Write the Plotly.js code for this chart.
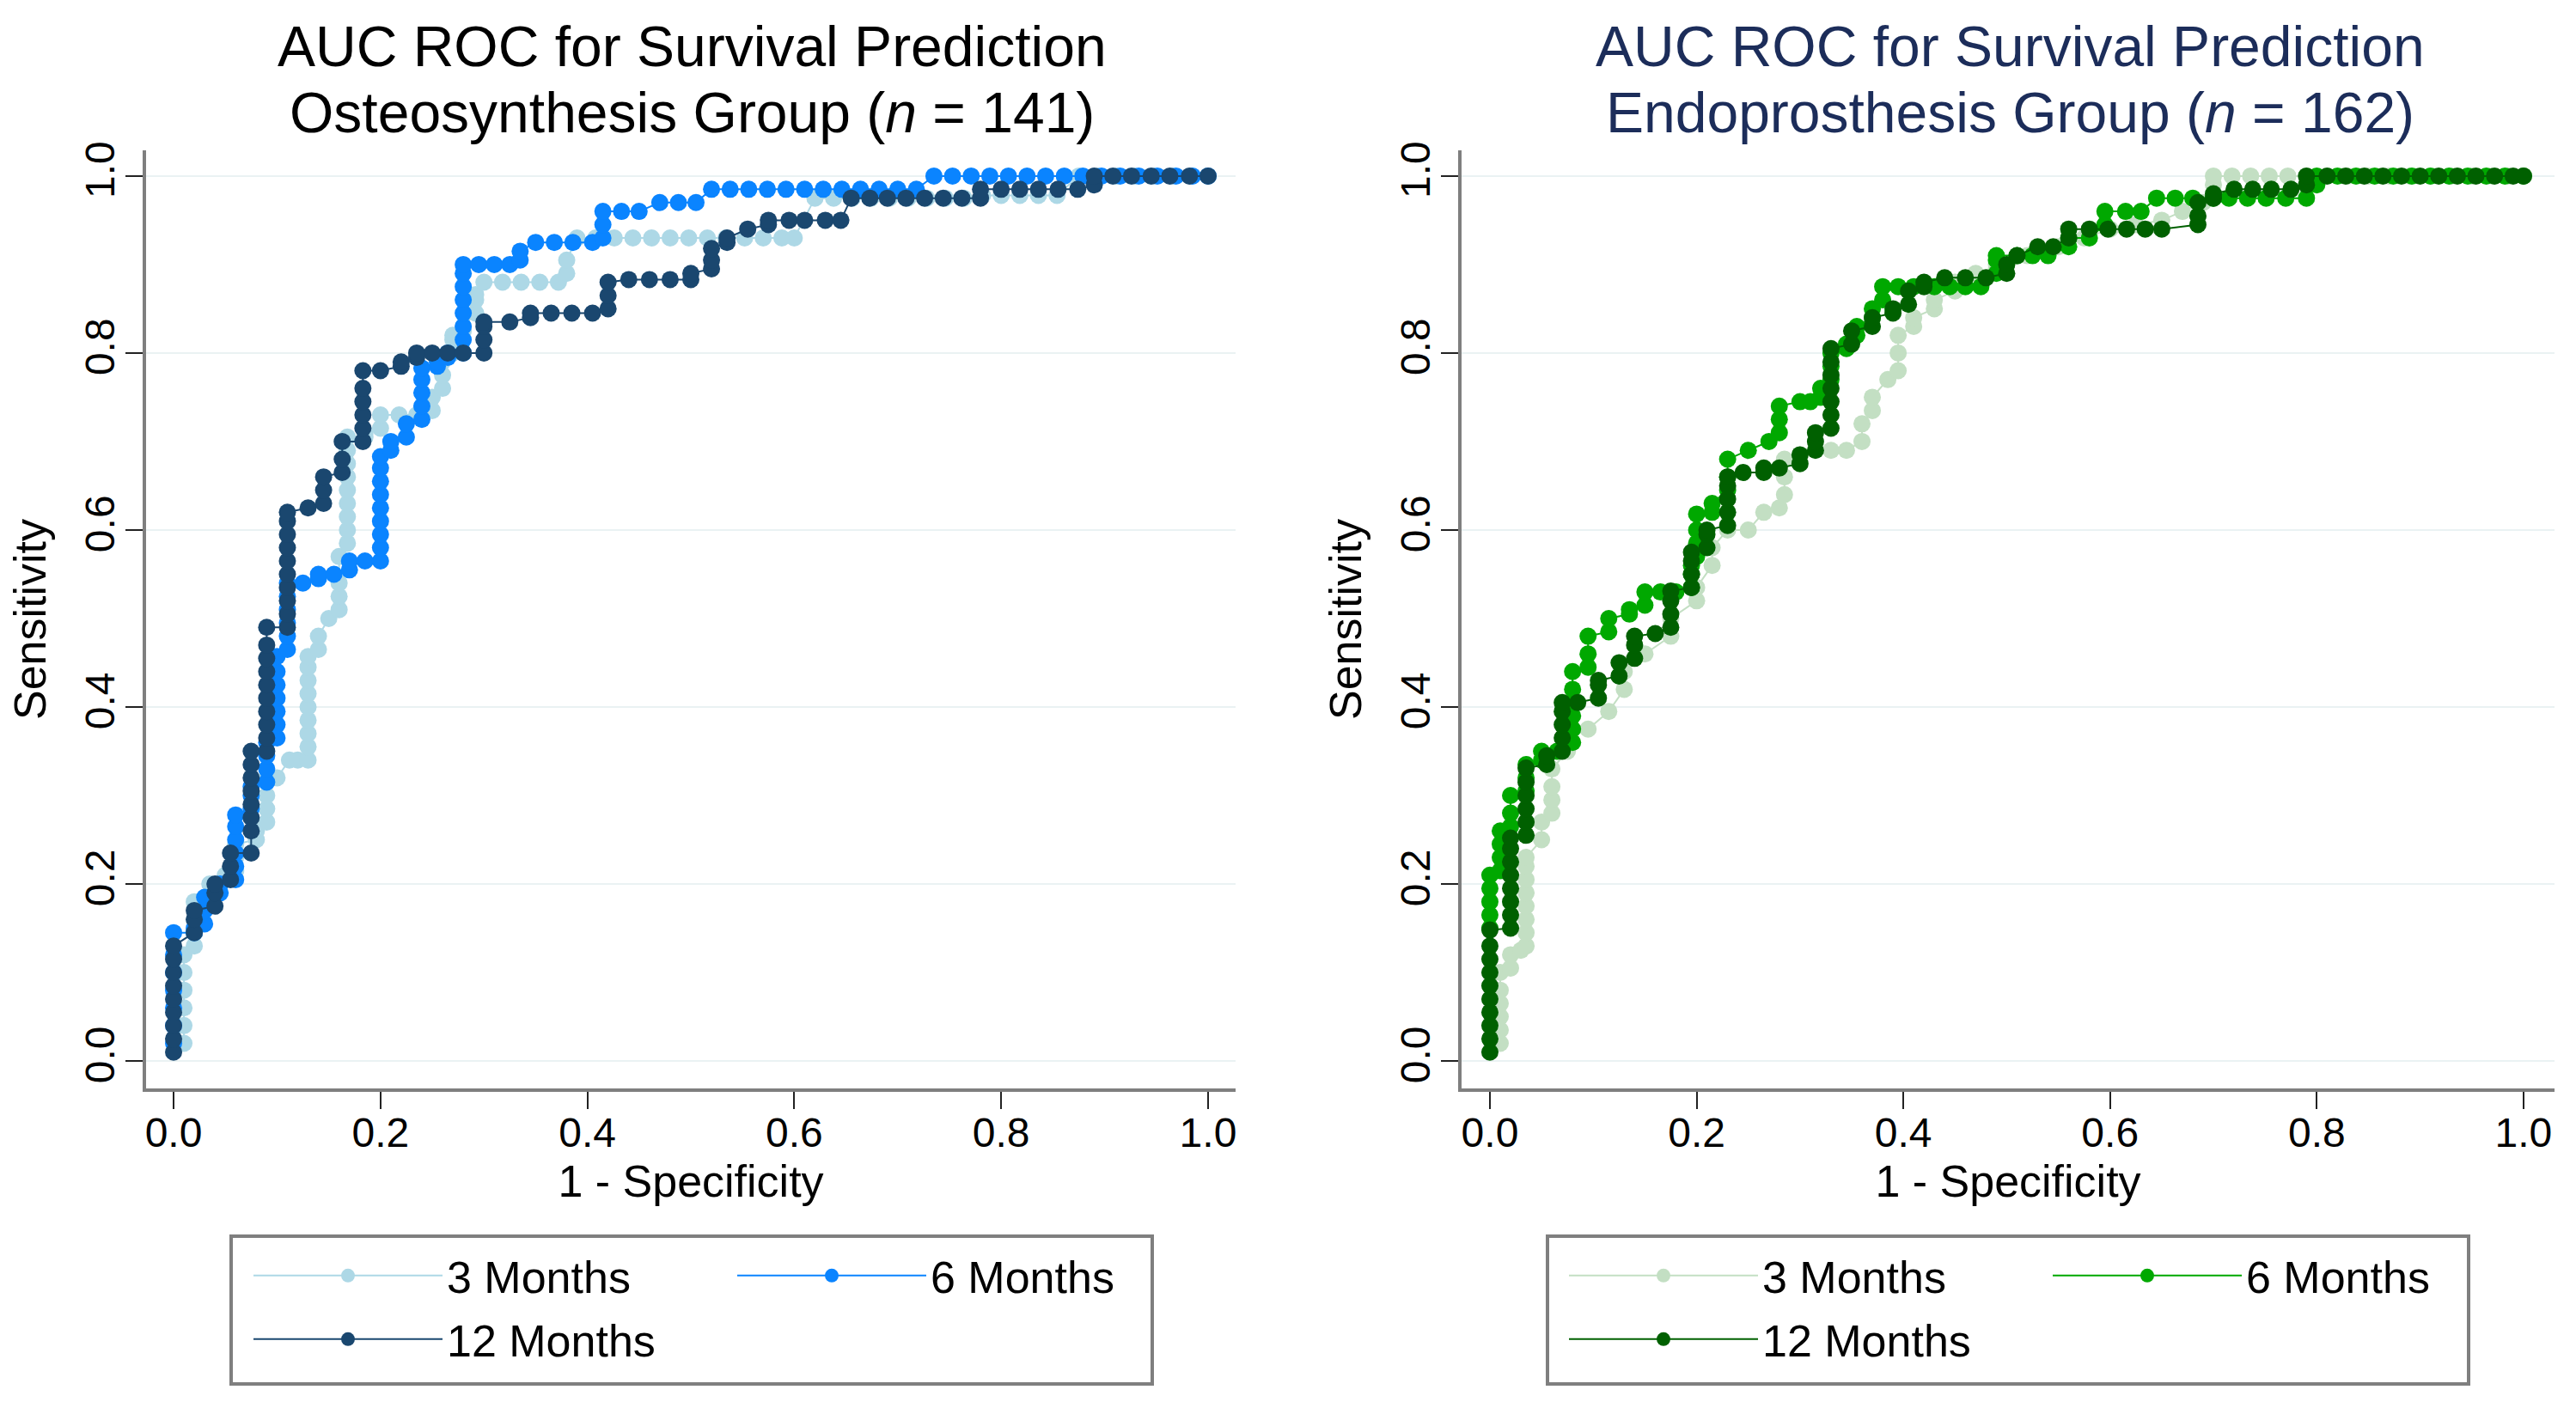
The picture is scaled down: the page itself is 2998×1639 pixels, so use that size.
<!DOCTYPE html>
<html>
<head>
<meta charset="utf-8">
<script src="https://cdn.plot.ly/plotly-3.0.1.min.js"></script>
<style>
  html, body { margin: 0; padding: 0; background: #ffffff; }
  #chart { width: 2998px; height: 1639px; }
</style>
</head>
<body>
<div id="chart"></div>
<script>
// ---------- data (1 - specificity, sensitivity) ----------
const seriesNames = ["3 Months", "6 Months", "12 Months"];
const tickVals = [0, 0.2, 0.4, 0.6, 0.8, 1.0];
const tickText = ["0.0", "0.2", "0.4", "0.6", "0.8", "1.0"];

const osteo3m = [
 [0.01,0.02],[0.01,0.04],[0.01,0.06],[0.01,0.08],[0.01,0.10],[0.01,0.12],
 [0.02,0.13],[0.02,0.145],[0.02,0.16],[0.02,0.18],
 [0.035,0.185],[0.035,0.20],[0.05,0.205],[0.05,0.21],
 [0.06,0.215],[0.06,0.23],[0.06,0.245],[0.08,0.25],[0.08,0.26],
 [0.09,0.27],[0.09,0.285],[0.09,0.30],[0.09,0.32],[0.10,0.32],
 [0.112,0.34],[0.12,0.34],
 [0.13,0.34],[0.13,0.355],[0.13,0.37],[0.13,0.385],[0.13,0.40],[0.13,0.415],[0.13,0.43],[0.13,0.445],[0.13,0.457],
 [0.14,0.465],[0.14,0.48],[0.15,0.50],
 [0.16,0.51],[0.16,0.525],[0.16,0.54],[0.16,0.57],
 [0.168,0.585],[0.168,0.60],[0.168,0.615],[0.168,0.63],[0.168,0.645],[0.168,0.66],[0.168,0.675],[0.168,0.69],[0.168,0.705],
 [0.185,0.705],[0.185,0.71],[0.20,0.715],[0.20,0.73],[0.218,0.73],[0.235,0.73],
 [0.25,0.735],[0.25,0.75],[0.26,0.76],[0.26,0.775],[0.26,0.79],
 [0.27,0.80],[0.27,0.815],[0.27,0.82],[0.28,0.825],[0.28,0.83],
 [0.292,0.845],[0.292,0.86],[0.292,0.866],
 [0.30,0.88],[0.318,0.88],[0.336,0.88],[0.354,0.88],[0.372,0.88],
 [0.38,0.89],[0.38,0.905],
 [0.39,0.93],[0.408,0.93],[0.426,0.93],[0.444,0.93],[0.462,0.93],[0.48,0.93],[0.498,0.93],[0.516,0.93],[0.534,0.93],[0.552,0.93],[0.57,0.93],[0.588,0.93],[0.60,0.93],
 [0.62,0.975],[0.638,0.975],[0.656,0.975],[0.674,0.975],[0.692,0.975],[0.71,0.975],[0.728,0.975],[0.746,0.975],[0.764,0.975],
 [0.782,0.978],[0.80,0.978],[0.818,0.978],[0.836,0.978],[0.854,0.978],
 [0.875,1.0],[0.893,1.0],[0.911,1.0],[0.929,1.0],[0.947,1.0],[0.965,1.0],[0.983,1.0],[1.0,1.0]
];

const osteo6m = [
 [0,0.02],[0,0.04],[0,0.06],[0,0.08],[0,0.10],[0,0.12],[0,0.145],
 [0.02,0.145],[0.02,0.15],[0.03,0.155],[0.03,0.17],[0.03,0.185],
 [0.045,0.19],[0.045,0.20],
 [0.06,0.205],[0.06,0.22],[0.06,0.235],[0.06,0.25],[0.06,0.265],[0.06,0.278],
 [0.075,0.285],[0.075,0.30],[0.075,0.31],
 [0.09,0.315],[0.09,0.33],[0.09,0.345],[0.09,0.36],
 [0.10,0.365],[0.10,0.38],[0.10,0.395],[0.10,0.41],[0.10,0.425],[0.10,0.44],[0.10,0.457],
 [0.11,0.465],[0.11,0.48],[0.11,0.495],[0.11,0.51],[0.11,0.525],[0.11,0.54],
 [0.125,0.54],[0.14,0.545],[0.14,0.55],[0.155,0.55],[0.17,0.555],[0.17,0.565],[0.185,0.565],
 [0.20,0.565],[0.20,0.58],[0.20,0.595],[0.20,0.61],[0.20,0.625],[0.20,0.64],[0.20,0.655],[0.20,0.67],[0.20,0.683],
 [0.21,0.69],[0.21,0.70],[0.225,0.705],[0.225,0.72],
 [0.24,0.725],[0.24,0.74],[0.24,0.755],[0.24,0.77],[0.24,0.783],
 [0.255,0.785],[0.255,0.79],[0.265,0.795],[0.265,0.80],
 [0.28,0.80],[0.28,0.815],[0.28,0.83],[0.28,0.845],[0.28,0.86],[0.28,0.875],[0.28,0.89],[0.28,0.90],
 [0.295,0.90],[0.31,0.90],[0.325,0.90],[0.335,0.905],[0.335,0.915],
 [0.35,0.925],[0.368,0.925],[0.386,0.925],[0.405,0.925],
 [0.415,0.93],[0.415,0.945],[0.415,0.96],[0.433,0.96],[0.45,0.96],
 [0.47,0.97],[0.488,0.97],[0.505,0.97],
 [0.52,0.985],[0.538,0.985],[0.556,0.985],[0.574,0.985],[0.592,0.985],[0.61,0.985],[0.628,0.985],[0.646,0.985],[0.664,0.985],[0.682,0.985],[0.70,0.985],[0.718,0.985],
 [0.735,1.0],[0.753,1.0],[0.771,1.0],[0.789,1.0],[0.807,1.0],[0.825,1.0],[0.843,1.0],[0.861,1.0],[0.879,1.0],[0.897,1.0],[0.915,1.0],[0.933,1.0],[0.951,1.0],[0.969,1.0],[0.985,1.0],[1.0,1.0]
];

const osteo12m = [
 [0,0.01],[0,0.025],[0,0.04],[0,0.055],[0,0.07],[0,0.085],[0,0.10],[0,0.115],[0,0.13],
 [0.02,0.145],[0.02,0.16],[0.02,0.17],[0.04,0.175],[0.04,0.19],[0.04,0.20],
 [0.055,0.205],[0.055,0.22],[0.055,0.235],
 [0.075,0.235],[0.075,0.26],[0.075,0.275],[0.075,0.29],[0.075,0.305],[0.075,0.32],[0.075,0.335],[0.075,0.35],
 [0.09,0.35],[0.09,0.365],[0.09,0.38],[0.09,0.395],[0.09,0.41],[0.09,0.425],[0.09,0.44],[0.09,0.455],[0.09,0.47],[0.09,0.49],
 [0.11,0.49],[0.11,0.505],[0.11,0.52],[0.11,0.535],[0.11,0.55],[0.11,0.565],[0.11,0.58],[0.11,0.595],[0.11,0.61],[0.11,0.62],
 [0.13,0.625],[0.145,0.63],[0.145,0.645],[0.145,0.66],
 [0.163,0.665],[0.163,0.68],[0.163,0.70],
 [0.183,0.70],[0.183,0.715],[0.183,0.73],[0.183,0.745],[0.183,0.76],[0.183,0.78],
 [0.20,0.78],[0.22,0.785],[0.22,0.79],[0.235,0.795],[0.235,0.80],
 [0.25,0.80],[0.265,0.80],[0.28,0.80],
 [0.30,0.80],[0.30,0.815],[0.30,0.83],[0.30,0.835],[0.325,0.835],
 [0.345,0.84],[0.345,0.845],[0.365,0.845],[0.385,0.845],[0.405,0.845],
 [0.42,0.85],[0.42,0.865],[0.42,0.88],
 [0.44,0.883],[0.46,0.883],[0.48,0.883],[0.50,0.883],[0.50,0.89],
 [0.52,0.895],[0.52,0.905],[0.52,0.918],[0.535,0.925],[0.535,0.93],
 [0.555,0.94],[0.575,0.945],[0.575,0.95],
 [0.595,0.95],[0.61,0.95],[0.63,0.95],[0.645,0.95],
 [0.655,0.975],[0.673,0.975],[0.69,0.975],[0.708,0.975],[0.726,0.975],[0.744,0.975],[0.762,0.975],
 [0.78,0.975],[0.78,0.985],
 [0.80,0.985],[0.818,0.985],[0.836,0.985],[0.855,0.985],[0.874,0.985],
 [0.89,0.99],[0.89,1.0],
 [0.908,1.0],[0.926,1.0],[0.945,1.0],[0.963,1.0],[0.982,1.0],[1.0,1.0]
];

const endo3m = [
 [0.01,0.02],[0.01,0.035],[0.01,0.05],[0.01,0.065],[0.01,0.08],[0.01,0.10],
 [0.02,0.105],[0.02,0.12],[0.03,0.125],
 [0.035,0.13],[0.035,0.145],[0.035,0.16],[0.035,0.175],[0.035,0.19],[0.035,0.205],[0.035,0.22],[0.035,0.23],
 [0.05,0.25],[0.05,0.27],[0.06,0.28],[0.06,0.295],[0.06,0.31],[0.06,0.33],
 [0.075,0.35],[0.075,0.37],[0.095,0.375],[0.115,0.395],
 [0.13,0.42],[0.13,0.44],[0.15,0.46],[0.175,0.48],[0.175,0.50],
 [0.20,0.52],[0.20,0.535],[0.215,0.56],[0.215,0.58],
 [0.23,0.60],[0.25,0.60],[0.265,0.62],[0.28,0.625],
 [0.285,0.64],[0.285,0.66],[0.285,0.68],
 [0.30,0.685],[0.33,0.69],[0.345,0.69],
 [0.36,0.70],[0.36,0.72],[0.37,0.735],[0.37,0.75],[0.385,0.77],
 [0.395,0.78],[0.395,0.80],[0.395,0.82],[0.41,0.83],[0.41,0.84],
 [0.43,0.85],[0.43,0.86],[0.45,0.87],[0.45,0.88],[0.47,0.89],
 [0.49,0.895],[0.49,0.90],[0.52,0.91],[0.55,0.92],[0.575,0.93],[0.60,0.94],[0.625,0.945],[0.65,0.95],[0.67,0.96],[0.69,0.97],
 [0.70,0.99],[0.70,1.0],
 [0.718,1.0],[0.736,1.0],[0.754,1.0],[0.772,1.0],[0.79,1.0],[0.81,1.0],[0.83,1.0],[0.85,1.0],[0.87,1.0],[0.89,1.0],[0.91,1.0],[0.93,1.0],[0.95,1.0],[0.97,1.0],[0.985,1.0],[1.0,1.0]
];

const endo6m = [
 [0,0.15],[0,0.165],[0,0.18],[0,0.195],[0,0.21],
 [0.01,0.215],[0.01,0.23],[0.01,0.245],[0.01,0.26],
 [0.02,0.265],[0.02,0.28],[0.02,0.30],
 [0.035,0.305],[0.035,0.32],[0.035,0.335],[0.05,0.34],[0.05,0.35],[0.065,0.35],
 [0.08,0.36],[0.08,0.375],[0.08,0.39],[0.08,0.405],[0.08,0.42],[0.08,0.44],
 [0.095,0.445],[0.095,0.46],[0.095,0.48],[0.115,0.485],[0.115,0.50],
 [0.135,0.505],[0.135,0.51],[0.15,0.515],[0.15,0.53],[0.165,0.53],[0.18,0.53],
 [0.195,0.535],[0.195,0.55],[0.195,0.56],
 [0.20,0.57],[0.20,0.585],[0.20,0.60],[0.20,0.618],
 [0.215,0.62],[0.215,0.63],[0.23,0.645],[0.23,0.66],[0.23,0.68],
 [0.25,0.69],[0.27,0.70],[0.28,0.71],[0.28,0.725],[0.28,0.74],
 [0.30,0.745],[0.31,0.745],[0.32,0.75],[0.32,0.76],
 [0.33,0.77],[0.33,0.785],[0.33,0.80],[0.345,0.805],[0.345,0.81],
 [0.355,0.82],[0.355,0.83],[0.37,0.84],[0.37,0.85],[0.38,0.86],[0.38,0.875],
 [0.395,0.875],[0.41,0.875],[0.43,0.875],[0.445,0.875],[0.46,0.875],[0.475,0.875],
 [0.49,0.89],[0.49,0.905],[0.49,0.91],[0.51,0.91],[0.525,0.91],[0.54,0.91],
 [0.56,0.92],[0.56,0.93],[0.58,0.93],[0.595,0.945],[0.595,0.96],[0.615,0.96],[0.63,0.96],
 [0.645,0.975],[0.663,0.975],[0.68,0.975],[0.70,0.975],[0.715,0.975],[0.733,0.975],[0.751,0.975],[0.77,0.975],[0.79,0.975],
 [0.80,0.99],[0.80,1.0],
 [0.82,1.0],[0.838,1.0],[0.856,1.0],[0.874,1.0],[0.892,1.0],[0.91,1.0],[0.928,1.0],[0.946,1.0],[0.964,1.0],[0.982,1.0],[1.0,1.0]
];

const endo12m = [
 [0,0.01],[0,0.025],[0,0.04],[0,0.055],[0,0.07],[0,0.085],[0,0.10],[0,0.115],[0,0.13],[0,0.148],
 [0.02,0.15],[0.02,0.165],[0.02,0.18],[0.02,0.195],[0.02,0.21],[0.02,0.225],[0.02,0.24],[0.02,0.252],
 [0.035,0.255],[0.035,0.27],[0.035,0.285],[0.035,0.30],[0.035,0.315],[0.035,0.331],
 [0.055,0.335],[0.055,0.345],
 [0.07,0.35],[0.07,0.365],[0.07,0.38],[0.07,0.395],[0.07,0.405],[0.085,0.405],
 [0.105,0.41],[0.105,0.425],[0.105,0.43],[0.125,0.435],[0.125,0.45],
 [0.14,0.455],[0.14,0.47],[0.14,0.48],[0.16,0.483],
 [0.175,0.49],[0.175,0.505],[0.175,0.52],[0.175,0.531],
 [0.195,0.535],[0.195,0.55],[0.195,0.565],[0.195,0.575],
 [0.21,0.58],[0.21,0.595],[0.21,0.60],
 [0.23,0.605],[0.23,0.62],[0.23,0.635],[0.23,0.65],[0.23,0.66],
 [0.245,0.665],[0.265,0.665],[0.265,0.67],[0.28,0.67],
 [0.30,0.675],[0.30,0.685],[0.315,0.69],[0.315,0.70],[0.315,0.71],
 [0.33,0.715],[0.33,0.73],[0.33,0.745],[0.33,0.76],[0.33,0.775],[0.33,0.79],[0.33,0.805],
 [0.35,0.81],[0.35,0.825],[0.37,0.83],[0.37,0.84],[0.39,0.845],[0.39,0.85],
 [0.405,0.855],[0.405,0.87],[0.42,0.875],[0.42,0.88],
 [0.44,0.885],[0.46,0.885],[0.48,0.885],[0.50,0.89],[0.50,0.90],
 [0.51,0.91],[0.53,0.92],[0.545,0.92],[0.56,0.93],[0.56,0.94],
 [0.58,0.94],[0.598,0.94],[0.616,0.94],[0.634,0.94],[0.65,0.94],
 [0.685,0.945],[0.685,0.955],[0.685,0.97],[0.70,0.975],[0.70,0.98],
 [0.72,0.985],[0.738,0.985],[0.756,0.985],[0.775,0.985],
 [0.79,0.99],[0.79,1.0],
 [0.81,1.0],[0.828,1.0],[0.846,1.0],[0.864,1.0],[0.882,1.0],[0.90,1.0],[0.918,1.0],[0.936,1.0],[0.954,1.0],[0.972,1.0],[0.99,1.0],[1.0,1.0]
];

const osteoColors = ["#add8e6", "#0a84ff", "#1a476f"];
const endoColors  = ["#c3dfc3", "#00a800", "#006000"];

// ---------- traces ----------
const FONT = "'Liberation Sans', Arial, Helvetica, sans-serif";
function mk(pts, name, color, xa, ya, legendId) {
  return {
    type: "scatter", mode: "lines+markers",
    x: pts.map(p => p[0]), y: pts.map(p => p[1]),
    name: name, xaxis: xa, yaxis: ya, legend: legendId,
    line: { color: color, width: 2 },
    marker: { color: color, size: 20, symbol: "circle", line: { width: 0 } },
    hoverinfo: "x+y+name", cliponaxis: false
  };
}
const data = [
  mk(osteo3m,  seriesNames[0], osteoColors[0], "x", "y", "legend"),
  mk(osteo6m,  seriesNames[1], osteoColors[1], "x", "y", "legend"),
  mk(osteo12m, seriesNames[2], osteoColors[2], "x", "y", "legend3"),
  mk(endo3m,   seriesNames[0], endoColors[0], "x2", "y2", "legend2"),
  mk(endo6m,   seriesNames[1], endoColors[1], "x2", "y2", "legend2"),
  mk(endo12m,  seriesNames[2], endoColors[2], "x2", "y2", "legend4")
];

// ---------- layout ----------
const W = 2998, H = 1639;
const px = v => v / W;           // horizontal pixel -> paper
const py = v => (H - v) / H;     // vertical pixel (from top) -> paper

function xAxis(d0, d1, r0, r1, anchor) {
  return {
    domain: [px(d0), px(d1)], anchor: anchor,
    range: [r0, r1], tickvals: tickVals, ticktext: tickText,
    showline: true, linecolor: "#7f7f7f", linewidth: 4,
    ticks: "outside", ticklen: 20, tickwidth: 2, tickcolor: "#222222",
    ticklabelstandoff: -14,
    showgrid: false, zeroline: false,
    tickfont: { family: FONT, size: 48, color: "#000000" },
    title: { text: "1 - Specificity", font: { family: FONT, size: 52, color: "#000000" }, standoff: 14 },
    fixedrange: true
  };
}
function yAxis(anchor) {
  return {
    domain: [py(1267), py(175)], anchor: anchor,
    range: [-0.031, 1.029], tickvals: tickVals, ticktext: tickText,
    tickangle: -90,
    showline: true, linecolor: "#7f7f7f", linewidth: 4,
    ticks: "outside", ticklen: 20, tickwidth: 2, tickcolor: "#222222",
    ticklabelstandoff: -6,
    showgrid: true, gridcolor: "#eaf2f3", gridwidth: 2, zeroline: false,
    tickfont: { family: FONT, size: 48, color: "#000000" },
    title: { text: "Sensitivity", font: { family: FONT, size: 52, color: "#000000" } },
    fixedrange: true
  };
}

function legendAt(xPix, yPix) {
  return {
    x: px(xPix), y: py(yPix), xanchor: "left", yanchor: "middle",
    orientation: "h", bgcolor: "rgba(0,0,0,0)", borderwidth: 0,
    font: { family: FONT, size: 52, color: "#000000" },
    itemwidth: 220, entrywidth: 328, entrywidthmode: "pixels",
    traceorder: "normal", itemclick: false, itemdoubleclick: false
  };
}

const titleFont = (c) => ({ family: FONT, size: 66, color: c });
const layout = {
  width: W, height: H,
  margin: { l: 0, r: 0, t: 0, b: 0, autoexpand: false },
  paper_bgcolor: "#ffffff", plot_bgcolor: "#ffffff",
  font: { family: FONT, color: "#000000" },
  showlegend: true,
  xaxis: xAxis(170, 1438, -0.0266, 1.0266, "y"),
  yaxis: yAxis("x"),
  xaxis2: xAxis(1701, 2973, -0.0274, 1.030, "y2"),
  yaxis2: yAxis("x2"),
  legend: legendAt(290, 1485),
  legend3: legendAt(290, 1559),
  legend2: legendAt(1821, 1485),
  legend4: legendAt(1821, 1559),
  annotations: [
    { xref: "paper", yref: "paper", x: px(805), y: py(54), xanchor: "center", yanchor: "middle",
      text: "AUC ROC for Survival Prediction", showarrow: false, font: titleFont("#000000") },
    { xref: "paper", yref: "paper", x: px(805), y: py(131), xanchor: "center", yanchor: "middle",
      text: "Osteosynthesis Group (<i>n</i> = 141)", showarrow: false, font: titleFont("#000000") },
    { xref: "paper", yref: "paper", x: px(2339), y: py(54), xanchor: "center", yanchor: "middle",
      text: "AUC ROC for Survival Prediction", showarrow: false, font: titleFont("#1c2d5a") },
    { xref: "paper", yref: "paper", x: px(2339), y: py(131), xanchor: "center", yanchor: "middle",
      text: "Endoprosthesis Group (<i>n</i> = 162)", showarrow: false, font: titleFont("#1c2d5a") }
  ],
  shapes: [
    { type: "rect", xref: "paper", yref: "paper", x0: px(269), x1: px(1341), y0: py(1611), y1: py(1439),
      line: { color: "#7f7f7f", width: 4 }, fillcolor: "rgba(0,0,0,0)", layer: "below" },
    { type: "rect", xref: "paper", yref: "paper", x0: px(1801), x1: px(2873), y0: py(1611), y1: py(1439),
      line: { color: "#7f7f7f", width: 4 }, fillcolor: "rgba(0,0,0,0)", layer: "below" }
  ]
};

Plotly.newPlot("chart", data, layout, { displayModeBar: false, responsive: false });
</script>
</body>
</html>
